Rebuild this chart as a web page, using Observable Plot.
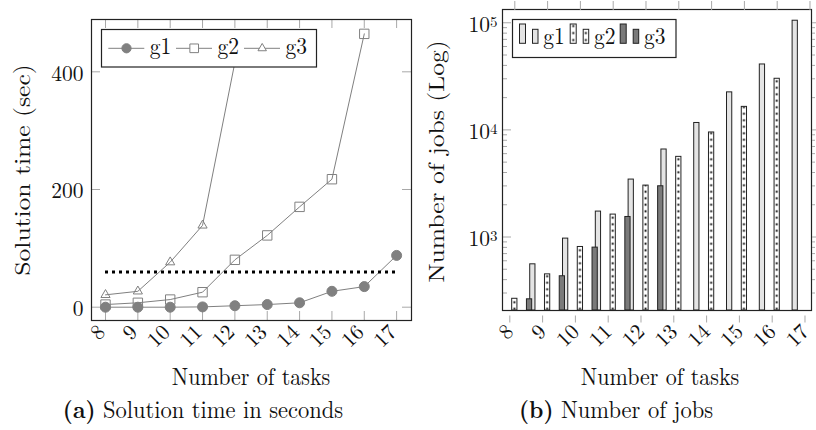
<!DOCTYPE html>
<html><head><meta charset="utf-8">
<script src="https://cdn.jsdelivr.net/npm/d3@7"></script>
<script src="https://cdn.jsdelivr.net/npm/@observablehq/plot@0.6"></script>
<style>
html,body{margin:0;padding:0;background:#fff;}
#wrap{position:relative;width:816px;height:430px;overflow:hidden;background:#fff;}
#wrap svg{position:absolute;top:0;max-width:none;}
#wrap text{font-family:'Latin Modern Roman','Liberation Serif',serif;}
</style></head><body><div id="wrap"></div>
<script>
// ---------------- data ----------------
const tasks = [8, 9, 10, 11, 12, 13, 14, 15, 16, 17];
// (a) solution time in seconds
const timeG1 = [0, 0, 0, 0.5, 2.5, 4.5, 7.5, 27, 35, 88];          // tasks 8..17
const timeG2 = [4.5, 7.5, 13, 25.5, 80.5, 122, 170.5, 217.5, 464.5]; // tasks 8..16
const timeG3 = [21, 27, 76.5, 139, 416];                             // tasks 8..12
const timeLimit = 60;
const timeTicks = [0, 200, 400];
// (b) number of jobs
const jobsG1 = [556, 966, 1727, 3437, 6560, 11600, 22400, 40800, 104500]; // tasks 8..16
const jobsG2 = [265, 448, 807, 1619, 3020, 5600, 9460, 16400, 30000];     // tasks 8..16
const jobsG3 = [262, 430, 796, 1538, 2976];                               // tasks 8..12
const jobsMajor = [1e3, 1e4, 1e5];
const jobsMinor = [300, 400, 500, 600, 700, 800, 900, 2000, 3000, 4000, 5000, 6000, 7000, 8000, 9000,
                   20000, 30000, 40000, 50000, 60000, 70000, 80000, 90000];
const seriesNames = ["g1", "g2", "g3"];

// ---------------- styles ----------------
const FONT = "'Latin Modern Roman', 'Liberation Serif', serif";
const INK = "#111";
const FRAME = "#222";
const TICK = "#a8a8a8";
const GREY = "#808080";
const LIGHT = "#e4e4e4";
const DARK = "#7a7a7a";
const H = 395;

const rowsOf = (vals, name, key) => vals.map((v, i) => ({series: name, task: tasks[i], [key]: v}));
const tA = [rowsOf(timeG1, "g1", "time"), rowsOf(timeG2, "g2", "time"), rowsOf(timeG3, "g3", "time")];
const jB = [rowsOf(jobsG1, "g1", "jobs"), rowsOf(jobsG2, "g2", "jobs"), rowsOf(jobsG3, "g3", "jobs")];

const wrap = document.getElementById("wrap");
const baseStyle = {fontFamily: FONT, fontSize: "21.5px", color: INK, background: "transparent", overflow: "visible"};

// ---------------- (a) ----------------
const A = {w: 412, ml: 91, mr: 1, mt: 19, mb: 75};
const Aph = H - A.mt - A.mb, Apw = A.w - A.ml - A.mr;
const symA = [{symbol: "circle", r: 5, fill: GREY}, {symbol: "square", r: 5.3, fill: "none"}, {symbol: "triangle", r: 3.4, fill: "none"}];
const serMarksA = tA.flatMap((rows, i) => [
  Plot.line(rows, {x: "task", y: "time", stroke: GREY, strokeWidth: 1}),
  Plot.dot(rows, {x: "task", y: "time", symbol: () => symA[i].symbol, r: symA[i].r, fill: symA[i].fill, stroke: GREY, strokeWidth: 1})
]);
const plotA = Plot.plot({
  width: A.w, height: H, marginLeft: A.ml, marginRight: A.mr, marginTop: A.mt, marginBottom: A.mb,
  style: baseStyle,
  x: {domain: [7.567, 17.46], label: null},
  y: {domain: [-22.6, 488.9], label: null},
  symbol: {type: "identity"},
  marks: [
    Plot.ruleX(tasks, {x: d => d, stroke: TICK, insetTop: Aph - 9}),
    Plot.ruleX(tasks, {x: d => d, stroke: TICK, insetBottom: Aph - 9}),
    Plot.ruleY(timeTicks, {y: d => d, stroke: TICK, insetRight: Apw - 9}),
    Plot.ruleY(timeTicks, {y: d => d, stroke: TICK, insetLeft: Apw - 9}),
    ...serMarksA,
    Plot.ruleY([timeLimit], {y: d => d, x1: () => tasks[0], x2: () => tasks[tasks.length - 1], stroke: "#000", strokeWidth: 3, strokeDasharray: "3,4"}),
    Plot.frame({stroke: FRAME, strokeWidth: 1.2}),
    Plot.axisY({ticks: timeTicks, tickSize: 0, tickPadding: 8, dy: 2, label: null, fill: INK}),
    Plot.axisX({ticks: tasks, tickSize: 0, tickPadding: 4, tickRotate: -45, dx: -4, dy: 4, label: null, fill: INK})
  ]
});
plotA.style.left = "0px";
wrap.appendChild(plotA);

// ---------------- (b) ----------------
const B = {w: 406, ml: 92, mr: 5, mt: 9, mb: 85};
const Bph = H - B.mt - B.mb, Bpw = B.w - B.ml - B.mr;
const jobsDomain = [206, 133000];
const BW = 0.16;
const offB = [0.55, 0, 0.45];
const fillB = [LIGHT, "#fff", DARK];
const barMarks = jB.map((rows, i) => Plot.rect(rows, {
  x1: d => d.task + offB[i] - BW / 2, x2: d => d.task + offB[i] + BW / 2,
  y1: () => jobsDomain[0], y2: "jobs",
  fill: fillB[i], stroke: FRAME, strokeWidth: 1, ariaDescription: "bars-" + seriesNames[i]
}));
const plotB = Plot.plot({
  width: B.w, height: H, marginLeft: B.ml, marginRight: B.mr, marginTop: B.mt, marginBottom: B.mb,
  style: baseStyle,
  x: {domain: [7.625, 17.046], label: null},
  y: {type: "log", domain: jobsDomain, label: null},
  marks: [
    Plot.ruleY(jobsMajor, {y: d => d, stroke: TICK, insetRight: Bpw - 9}),
    Plot.ruleY(jobsMinor, {y: d => d, stroke: TICK, insetRight: Bpw - 5}),
    ...barMarks,
    Plot.frame({stroke: FRAME, strokeWidth: 1.2}),
    Plot.axisY({anchor: "left", ticks: jobsMajor, tickSize: 0, tickPadding: 5, dy: 2, label: null, fill: INK,
      tickFormat: d => String(Math.round(Math.log10(d)))}),
    Plot.axisY({anchor: "right", ticks: jobsMajor, tickSize: 6, stroke: TICK, tickFormat: () => "", label: null}),
    Plot.axisY({anchor: "right", ticks: jobsMinor, tickSize: 3, stroke: TICK, tickFormat: () => "", label: null}),
    Plot.axisX({anchor: "top", ticks: tasks, tickSize: 9, stroke: TICK, tickFormat: () => "", label: null}),
    Plot.axisX({anchor: "bottom", ticks: tasks, tickSize: 7, stroke: TICK, tickPadding: 5, tickRotate: -45, dx: -5, dy: 5.5, label: null, fill: INK})
  ]
});
plotB.style.left = "410px";
wrap.appendChild(plotB);

// dotted pattern for g2 bars, aligned on the x scale
{
  const xs = plotB.scale("x");
  const x0 = xs.apply(tasks[0]), step = xs.apply(tasks[1]) - x0;
  const svgB = d3.select(plotB);
  const defs = svgB.insert("defs", ":first-child");
  const pat = defs.append("pattern").attr("id", "dotsB").attr("patternUnits", "userSpaceOnUse")
    .attr("x", x0 - step / 2).attr("y", 0).attr("width", step).attr("height", 6.5);
  pat.append("rect").attr("width", step).attr("height", 6.5).attr("fill", "#fff");
  pat.append("rect").attr("x", step / 2 - 0.9).attr("y", 2.3).attr("width", 1.9).attr("height", 1.9).attr("fill", "#000");
  let g2 = svgB.selectAll('g[aria-description="bars-g2"] rect');
  if (g2.empty()) g2 = d3.select(svgB.selectAll('g[aria-label="rect"]').nodes()[1]).selectAll("rect");
  g2.attr("fill", "url(#dotsB)");
  // superscript exponents on the log labels
  svgB.selectAll('g[aria-label="y-axis tick label"] text').each(function () {
    const t = d3.select(this), e = t.text();
    if (!e) return;
    t.text("");
    t.append("tspan").text("10");
    t.append("tspan").attr("dy", "-0.33em").attr("font-size", "15px").text(e);
  });
}

// ---------------- overlay: titles, captions, legends ----------------
const ov = d3.create("svg").attr("width", 816).attr("height", 430)
  .attr("fill", INK).style("left", "0px");
const odefs = ov.append("defs");
const lp = odefs.append("pattern").attr("id", "dotsL").attr("patternUnits", "userSpaceOnUse")
  .attr("x", 573.2 - 6.3).attr("y", 22.5).attr("width", 12.6).attr("height", 7);
lp.append("rect").attr("width", 12.6).attr("height", 7).attr("fill", "#fff");
lp.append("rect").attr("x", 5.4).attr("y", 2.6).attr("width", 1.9).attr("height", 1.9).attr("fill", "#000");

const SY = 1.08; // slight vertical stretch seen in the reference glyphs
const title = (x, y, txt, rot) => ov.append("text")
  .attr("transform", `translate(${x},${y})` + (rot ? " rotate(-90) scale(1.16,1)" : ` scale(1,${SY})`))
  .attr("text-anchor", "middle").attr("font-size", 22).text(txt);
title(30, 170, "Solution time (sec)", true);
title(444, 161.5, "Number of jobs (Log)", true);
title(251, 385, "Number of tasks");
title(660, 385, "Number of tasks");
const caption = (x, tag, txt) => {
  const t = ov.append("text").attr("transform", `translate(${x},417.5) scale(1,${SY})`).attr("text-anchor", "middle")
    .attr("font-size", 22.5);
  t.append("tspan").attr("font-weight", "bold").text(tag);
  t.append("tspan").text(" " + txt);
};
caption(203, "(a)", "Solution time in seconds");
caption(616, "(b)", "Number of jobs");

// legend (a)
ov.append("rect").attr("x", 101.5).attr("y", 29.5).attr("width", 215).attr("height", 37.5)
  .attr("fill", "#fff").attr("stroke", FRAME).attr("stroke-width", 1.2);
const legAx = [108.3, 176, 244];
const symFn = {circle: d3.symbolCircle, square: d3.symbolSquare, triangle: d3.symbolTriangle};
seriesNames.forEach((n, i) => {
  const x0 = legAx[i], yc = 48.3;
  ov.append("line").attr("x1", x0).attr("x2", x0 + 36).attr("y1", yc).attr("y2", yc).attr("stroke", GREY);
  ov.append("path").attr("transform", `translate(${x0 + 18.2},${yc})`)
    .attr("d", d3.symbol(symFn[symA[i].symbol], Math.PI * symA[i].r * symA[i].r * 0.85)())
    .attr("fill", symA[i].fill === "none" ? "#fff" : symA[i].fill).attr("stroke", GREY);
  ov.append("text").attr("transform", `translate(${x0 + 41.5},54) scale(1,${SY})`).attr("font-size", 21.5).text(n);
});

// legend (b)
ov.append("rect").attr("x", 512.5).attr("y", 19.5).attr("width", 163.5).attr("height", 38)
  .attr("fill", "#fff").attr("stroke", FRAME).attr("stroke-width", 1.2);
const legBx = [519.5, 570.2, 620.2];
const legFill = [LIGHT, "url(#dotsL)", DARK];
seriesNames.forEach((n, i) => {
  const x0 = legBx[i];
  ov.append("rect").attr("x", x0).attr("y", 24).attr("width", 6).attr("height", 19.3)
    .attr("fill", legFill[i]).attr("stroke", FRAME);
  ov.append("rect").attr("x", x0 + 13).attr("y", 29.3).attr("width", 5.5).attr("height", 14)
    .attr("fill", legFill[i]).attr("stroke", FRAME);
  ov.append("text").attr("transform", `translate(${x0 + 23.8},44) scale(1,${SY})`).attr("font-size", 21.5).text(n);
});
wrap.appendChild(ov.node());

// make sure every text uses the serif face
d3.selectAll("#wrap text").attr("font-family", FONT).style("font-family", FONT);
</script></body></html>
